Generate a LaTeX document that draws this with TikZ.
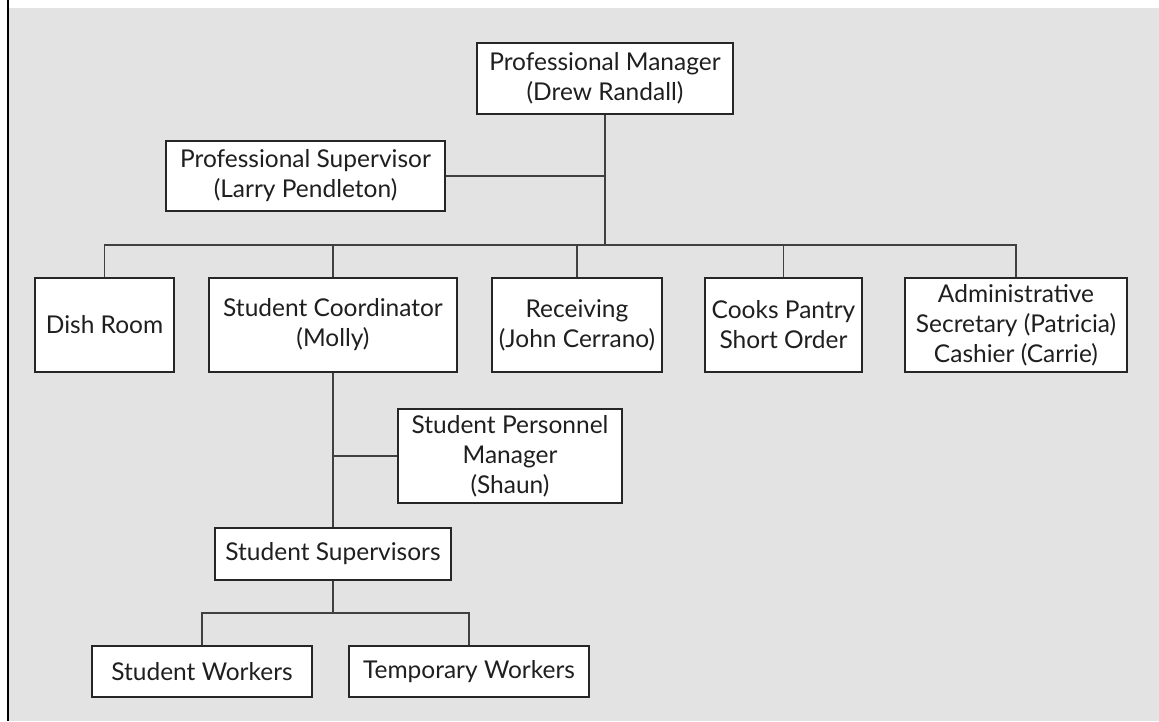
\documentclass[tikz,border=0pt]{standalone}
\usepackage{fontspec}
\setmainfont{Lato}
\begin{document}
\begin{tikzpicture}[x=1pt,y=-1pt,
  box/.style={draw=black!85,line width=1.1pt,fill=white,inner sep=0pt,
    align=center,font=\fontsize{24.5}{30}\selectfont,text=black!88},
  conn/.style={draw=black!75,line width=1.3pt}]
  % page, grey panel and left rule
  \useasboundingbox (0,0) rectangle (1159,721);
  \fill[white] (0,0) rectangle (1159,721);
  \fill[black!11] (9,8) rectangle (1159,721);
  \fill[black] (6.5,0) rectangle (9,721);

  % boxes: (centre) with width and height in px
  \node[box,minimum width=256,minimum height=71] (pm) at (605,78.5) {Professional Manager\\(Drew Randall)};
  \node[box,minimum width=279,minimum height=70] (ps) at (305.5,176) {Professional Supervisor\\(Larry Pendleton)};
  \node[box,minimum width=139,minimum height=94] (dish) at (104.5,325) {Dish Room};
  \node[box,minimum width=248,minimum height=94] (sc) at (333,325) {Student Coordinator\\(Molly)};
  \node[box,minimum width=170,minimum height=94] (rec) at (577,325) {Receiving\\(John Cerrano)};
  \node[box,minimum width=157,minimum height=94] (cook) at (783.5,325) {Cooks Pantry\\Short Order};
  \node[box,minimum width=222,minimum height=94] (adm) at (1016,325) {Administrative\\Secretary (Patricia)\\Cashier (Carrie)};
  \node[box,minimum width=224,minimum height=94] (spm) at (510,456) {Student Personnel\\Manager\\(Shaun)};
  \node[box,minimum width=236,minimum height=52] (ss) at (333,554) {Student Supervisors};
  \node[box,minimum width=220,minimum height=51] (sw) at (202,671.5) {Student Workers};
  \node[box,minimum width=240,minimum height=51] (tw) at (469,671.5) {Temporary Workers};

  % bus levels
  \coordinate (bus1) at (0,245);
  \coordinate (bus2) at (0,613);

  % top of the tree
  \draw[conn] (pm.south) -- (pm.south |- bus1);
  \draw[conn] (ps.east) -- (ps.east -| pm.south);
  \draw[conn] (dish.north) -- (dish.north |- bus1) -| (adm.north);
  \draw[conn] (sc.north) -- (sc.north |- bus1);
  \draw[conn] (rec.north) -- (rec.north |- bus1);
  \draw[conn] (cook.north) -- (cook.north |- bus1);

  % student branch
  \draw[conn] (sc.south) -- (ss.north);
  \draw[conn] (spm.west) -- (spm.west -| sc.south);
  \draw[conn] (ss.south) -- (ss.south |- bus2);
  \draw[conn] (sw.north) -- (sw.north |- bus2) -| (tw.north);
\end{tikzpicture}
\end{document}
